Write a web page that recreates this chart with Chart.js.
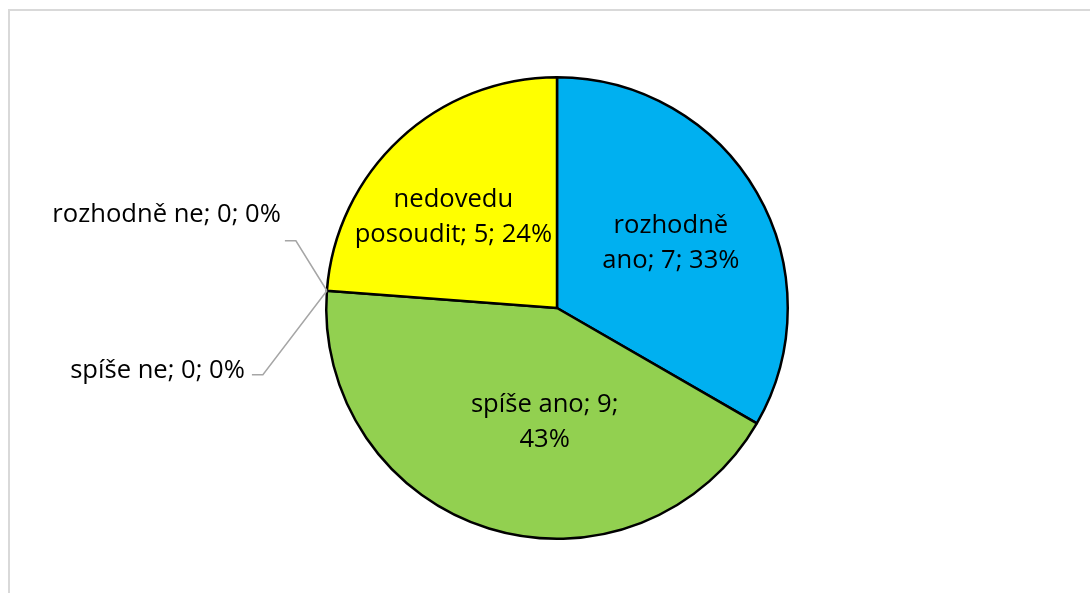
<!DOCTYPE html>
<html>
<head>
<meta charset="utf-8">
<script src="https://cdn.jsdelivr.net/npm/chart.js@4"></script>
<style>
    html, body { margin: 0; padding: 0; background: #fff; }
    #wrap { position: relative; width: 1090px; height: 593px; overflow: hidden; }
    #frame { position: absolute; left: 8px; top: 9px; width: 1200px; height: 700px; border: 1px solid #d9d9d9; border-width: 2px 0 0 2px; }
    canvas { position: absolute; left: 0; top: 0; }
</style>
</head>
<body>
<div id="wrap">
    <div id="frame"></div>
    <canvas id="pieChart" width="1090" height="593"></canvas>
</div>
<script>
// Data z grafu
const kategorie = ['rozhodně ano', 'spíše ano', 'spíše ne', 'rozhodně ne', 'nedovedu posoudit'];
const pocty = [7, 9, 0, 0, 5];
const procenta = ['33%', '43%', '0%', '0%', '24%'];
const barvy = ['#00B0F0', '#92D050', '#FF0000', '#7F7F7F', '#FFFF00'];

// radky popisku (jak je zalomil Excel)
const popisky = [
    ['rozhodně', 'ano; 7; 33%'],
    ['spíše ano; 9;', '43%'],
    ['spíše ne; 0; 0%'],
    ['rozhodně ne; 0; 0%'],
    ['nedovedu', 'posoudit; 5; 24%']
];

const LINE_H = 35;

// vnitrni popisky - pomer polomeru a drobne posuny
const uvnitr = {
    0: { f: 0.58, dx: -2, dy: 2 },
    1: { f: 0.49, dx: 21, dy: 6 },
    4: { f: 0.59, dx: -11, dy: 9 }
};

// vnejsi popisky s vodici carou (offsety od bodu na obvodu)
const venku = {
    3: { elbow: [-31, -50], end: [-42, -50], textRight: -46, textY: -76 },
    2: { elbow: [-64, 84], end: [-75, 84], textRight: -82, textY: 80 }
};

const popiskyPlugin = {
    id: 'popisky',
    afterDatasetsDraw(chart) {
        const ctx = chart.ctx;
        const meta = chart.getDatasetMeta(0);
        ctx.save();
        // velikost pisma tak, aby sirka odpovidala Calibri v originale
        ctx.font = '21px "Open Sans", sans-serif';
        const w = ctx.measureText('rozhodně ne; 0; 0%').width;
        const size = 21 * 229 / w;
        ctx.font = size.toFixed(1) + 'px "Open Sans", sans-serif';
        ctx.fillStyle = '#000';
        ctx.textBaseline = 'middle';

        meta.data.forEach((arc, i) => {
            const cx = arc.x, cy = arc.y, r = arc.outerRadius;
            if (uvnitr[i]) {
                const mid = (arc.startAngle + arc.endAngle) / 2;
                const u = uvnitr[i];
                const x = cx + Math.cos(mid) * r * u.f + u.dx;
                const y = cy + Math.sin(mid) * r * u.f + u.dy;
                const lines = popisky[i];
                ctx.textAlign = 'center';
                lines.forEach((t, k) => {
                    ctx.fillText(t, x, y + (k - (lines.length - 1) / 2) * LINE_H);
                });
            } else if (venku[i]) {
                const v = venku[i];
                const px = cx + Math.cos(arc.startAngle) * r;
                const py = cy + Math.sin(arc.startAngle) * r;
                ctx.strokeStyle = '#a6a6a6';
                ctx.lineWidth = 1.5;
                ctx.beginPath();
                ctx.moveTo(px, py);
                ctx.lineTo(px + v.elbow[0], py + v.elbow[1]);
                ctx.lineTo(px + v.end[0], py + v.end[1]);
                ctx.stroke();
                ctx.textAlign = 'right';
                ctx.fillText(popisky[i][0], px + v.textRight, py + v.textY);
            }
        });
        ctx.restore();
    }
};

const ctxPie = document.getElementById('pieChart').getContext('2d');
const pieChart = new Chart(ctxPie, {
    type: 'pie',
    data: {
        labels: kategorie,
        datasets: [{
            data: pocty,
            backgroundColor: barvy,
            borderColor: '#000',
            borderWidth: 2.5
        }]
    },
    options: {
        responsive: false,
        animation: false,
        layout: { padding: { top: 76, bottom: 53, left: 100, right: 76 } },
        plugins: {
            legend: { display: false },
            tooltip: { enabled: false }
        }
    },
    plugins: [popiskyPlugin]
});
</script>
</body>
</html>
